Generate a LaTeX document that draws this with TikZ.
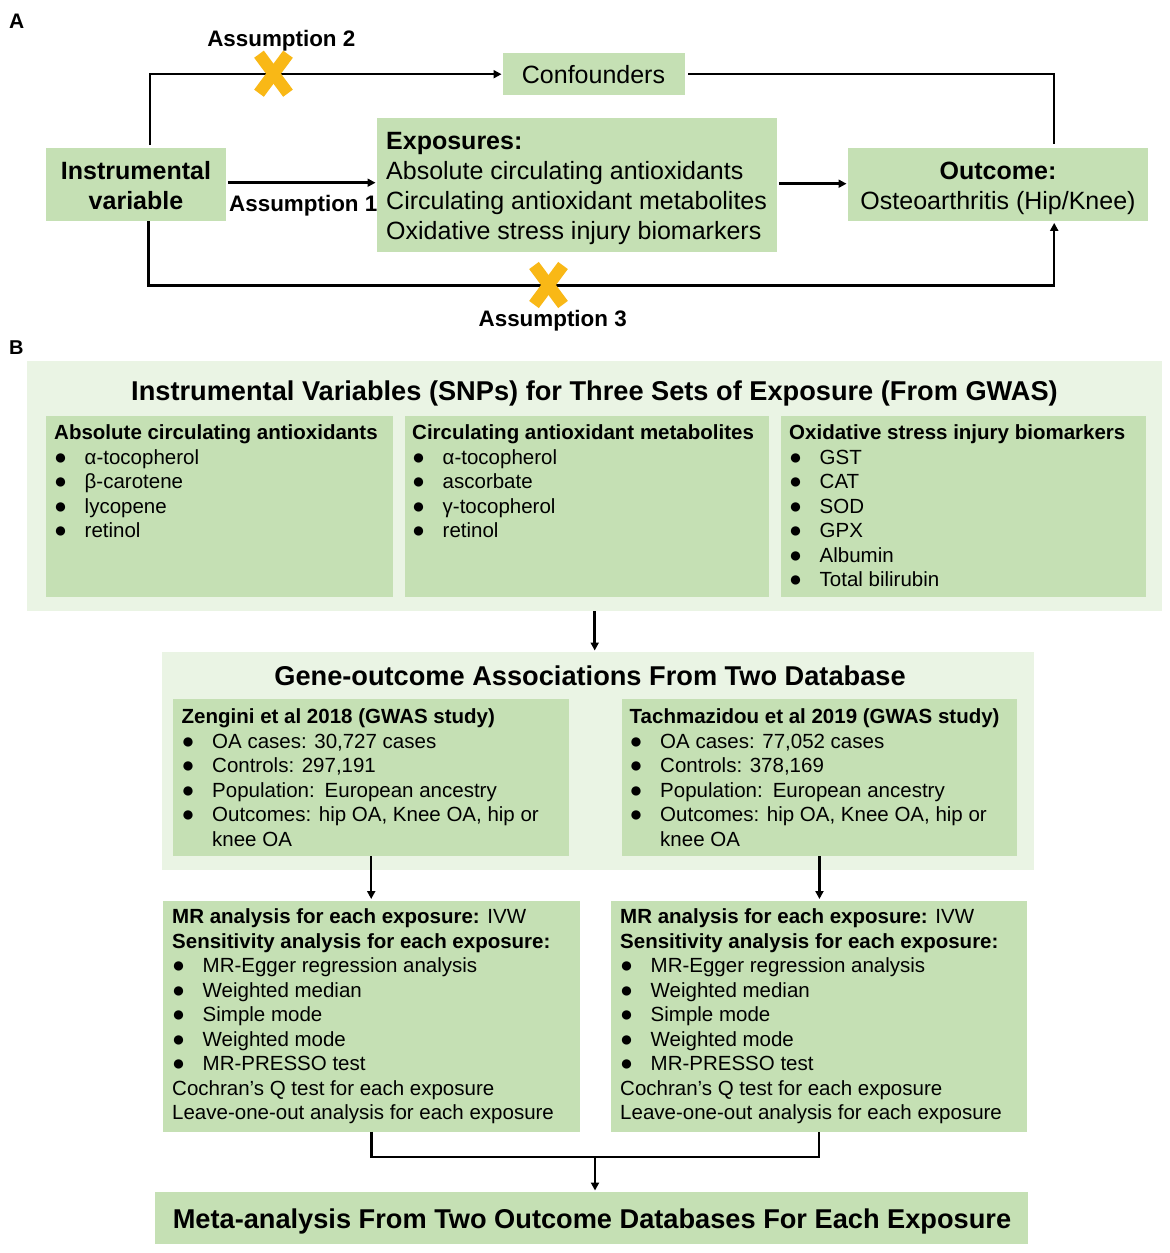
\documentclass[tikz,border=0pt]{standalone}
\usepackage{fontspec}
\setmainfont{Liberation Sans}
\usepackage{graphicx}
\usetikzlibrary{arrows.meta}
\definecolor{boxg}{RGB}{197,224,180}
\definecolor{paleg}{RGB}{234,244,228}
\definecolor{xmark}{RGB}{249,184,22}
\newcommand\bl{\makebox[30.5pt][l]{\fontsize{21.5}{21.5}\selectfont ●}}
\newcommand\fb{\fontsize{20.5}{24.5}\selectfont}
\tikzset{
  box/.style={fill=boxg, inner sep=0pt, anchor=north west},
  pale/.style={fill=paleg, inner sep=0pt, anchor=north west},
  conn/.style={line width=2.5pt, black},
  arr/.style={conn, -{Triangle[length=8pt,width=8pt]}, shorten >=1.5pt},
  xm/.style={line width=12pt, xmark},
  ta/.style={inner sep=0pt, anchor=base, font=\fontsize{25}{30}\selectfont},
  tab/.style={ta, font=\fontsize{25}{30}\selectfont\bfseries},
  asm/.style={inner sep=0pt, anchor=base, font=\fontsize{22.4}{26}\selectfont\bfseries},
  lab/.style={inner sep=0pt, anchor=base west, font=\fontsize{21}{24}\selectfont\bfseries},
  ttl/.style={inner sep=0pt, anchor=base, font=\fontsize{27.2}{32}\selectfont\bfseries},
  tl/.style={inner sep=0pt, anchor=base west},
}
\begin{document}
\begin{tikzpicture}[x=1pt,y=-1pt]
\useasboundingbox (0,0) rectangle (1170,1253);
\fill[white] (0,0) rectangle (1170,1253);

% ---------- Panel A ----------
\node[lab] (labA) at (9,28.3) {A};
\node[box, minimum width=180pt, minimum height=73pt] (iv) at (46,148) {};
\node[box, minimum width=182pt, minimum height=42pt] (conf) at (503,53) {};
\node[box, minimum width=400pt, minimum height=134pt] (exp) at (377,118) {};
\node[box, minimum width=300pt, minimum height=73pt] (out) at (848,148) {};

\node[tab] (ivt1) at (136,179.5) {Instrumental};
\node[tab] (ivt2) at (136,209.5) {variable};
\node[ta] (conft) at (593.5,83.3) {Confounders};
\node[tl] (expt) at (386,149) {\begin{minipage}[t]{400pt}\fontsize{25}{30}\selectfont
\textbf{Exposures:}\\
Absolute circulating antioxidants\\
Circulating antioxidant metabolites\\
Oxidative stress injury biomarkers\end{minipage}};
\node[tab] (outt1) at (998,179.5) {Outcome:};
\node[ta] (outt2) at (998,209.5) {Osteoarthritis (Hip/Knee)};

\node[asm] (as2) at (281.3,46.7) {Assumption 2};
\node[asm, anchor=base west] (as1) at (229,211.5) {Assumption 1};
\node[asm] (as3) at (552.7,326.5) {Assumption 3};

\draw[arr] ([xshift=104pt,yshift=3pt]iv.north west) |- (conf.west);
\draw[conn, shorten <=3pt] (conf.east) -| ([xshift=56pt,yshift=4pt]out.north);
\draw[arr, shorten <=1.5pt] ([yshift=2pt]iv.east) -- ([yshift=2pt]iv.east -| exp.west);
\draw[arr, shorten <=1.5pt] ([yshift=1.5pt]exp.east) -- ([yshift=1.5pt]exp.east -| out.west);
\draw[arr] ([xshift=102.5pt]iv.south west) -- ++(0,64) -| ([xshift=56pt]out.south);

\draw[xm] (259,54.2) -- (288,93.2);
\draw[xm] (288,54.2) -- (259,93.2);
\draw[xm] (534,265.5) -- (563,304.5);
\draw[xm] (563,265.5) -- (534,304.5);

% ---------- Panel B ----------
\node[lab, font=\fontsize{20}{24}\selectfont\bfseries] (labB) at (9,354) {B};
\node[pale, minimum width=1135pt, minimum height=250pt] (snp) at (27,361) {};
\node[box, minimum width=347pt, minimum height=181pt] (s1) at (46,416) {};
\node[box, minimum width=364.5pt, minimum height=181pt] (s2) at (404.5,416) {};
\node[box, minimum width=365pt, minimum height=181pt] (s3) at (780.5,416) {};
\node[ttl] (snpt) at (594.5,400) {Instrumental Variables (SNPs) for Three Sets of Exposure (From GWAS)};
\node[tl] (s1t) at (54,439.5) {\begin{minipage}[t]{340pt}\fb
\textbf{Absolute circulating antioxidants}\\
\bl α-tocopherol\\
\bl β-carotene\\
\bl lycopene\\
\bl retinol\end{minipage}};
\node[tl] (s2t) at (412,439.5) {\begin{minipage}[t]{350pt}\fb
\textbf{Circulating antioxidant metabolites}\\
\bl α-tocopherol\\
\bl ascorbate\\
\bl γ-tocopherol\\
\bl retinol\end{minipage}};
\node[tl] (s3t) at (789,439.5) {\begin{minipage}[t]{350pt}\fb
\textbf{Oxidative stress injury biomarkers}\\
\bl GST\\
\bl CAT\\
\bl SOD\\
\bl GPX\\
\bl Albumin\\
\bl Total bilirubin\end{minipage}};

\node[pale, minimum width=872.5pt, minimum height=218pt] (gene) at (161.5,652) {};
\node[box, minimum width=396pt, minimum height=157pt] (zeng) at (173,699) {};
\node[box, minimum width=395.5pt, minimum height=157pt] (tach) at (621.5,699) {};
\node[ttl] (genet) at (590,685) {Gene-outcome Associations From Two Database};
\node[tl] (zengt) at (181.5,723.5) {\begin{minipage}[t]{390pt}\fb
\textbf{Zengini et al 2018 (GWAS study)}\\
\bl OA cases: 30,727 cases\\
\bl Controls: 297,191\\
\bl Population:\hspace{10pt}European ancestry\\
\bl Outcomes: hip OA, Knee OA, hip or\\
\hspace*{30.5pt}knee OA\end{minipage}};
\node[tl] (tacht) at (629.5,723.5) {\begin{minipage}[t]{390pt}\fb
\textbf{Tachmazidou et al 2019 (GWAS study)}\\
\bl OA cases: 77,052 cases\\
\bl Controls: 378,169\\
\bl Population:\hspace{10pt}European ancestry\\
\bl Outcomes: hip OA, Knee OA, hip or\\
\hspace*{30.5pt}knee OA\end{minipage}};

\node[box, minimum width=416.5pt, minimum height=231pt] (mr1) at (163,900.5) {};
\node[box, minimum width=416pt, minimum height=231pt] (mr2) at (611,900.5) {};
\node[tl] (mr1t) at (172,923.5) {\begin{minipage}[t]{410pt}\fb
\textbf{MR analysis for each exposure:} IVW\\
\textbf{Sensitivity analysis for each exposure:}\\
\bl MR-Egger regression analysis\\
\bl Weighted median\\
\bl Simple mode\\
\bl Weighted mode\\
\bl MR-PRESSO test\\
Cochran’s Q test for each exposure\\
Leave-one-out analysis for each exposure\end{minipage}};
\node[tl] (mr2t) at (620,923.5) {\begin{minipage}[t]{410pt}\fb
\textbf{MR analysis for each exposure:} IVW\\
\textbf{Sensitivity analysis for each exposure:}\\
\bl MR-Egger regression analysis\\
\bl Weighted median\\
\bl Simple mode\\
\bl Weighted mode\\
\bl MR-PRESSO test\\
Cochran’s Q test for each exposure\\
Leave-one-out analysis for each exposure\end{minipage}};

\node[box, minimum width=873pt, minimum height=52pt] (fin) at (155,1192) {};
\node[ttl] (fint) at (592,1228) {Meta-analysis From Two Outcome Databases For Each Exposure};

\draw[arr] (snp.south) -- (snp.south |- gene.north);
\draw[arr] (zeng.south) -- (zeng.south |- mr1.north);
\draw[arr] (tach.south) -- (tach.south |- mr2.north);
\draw[conn] (mr1.south) -- ++(0,25) -| (mr2.south);
\coordinate (join) at (595,1156.5);
\draw[arr] (join) -- (join |- fin.north);
\end{tikzpicture}
\end{document}
